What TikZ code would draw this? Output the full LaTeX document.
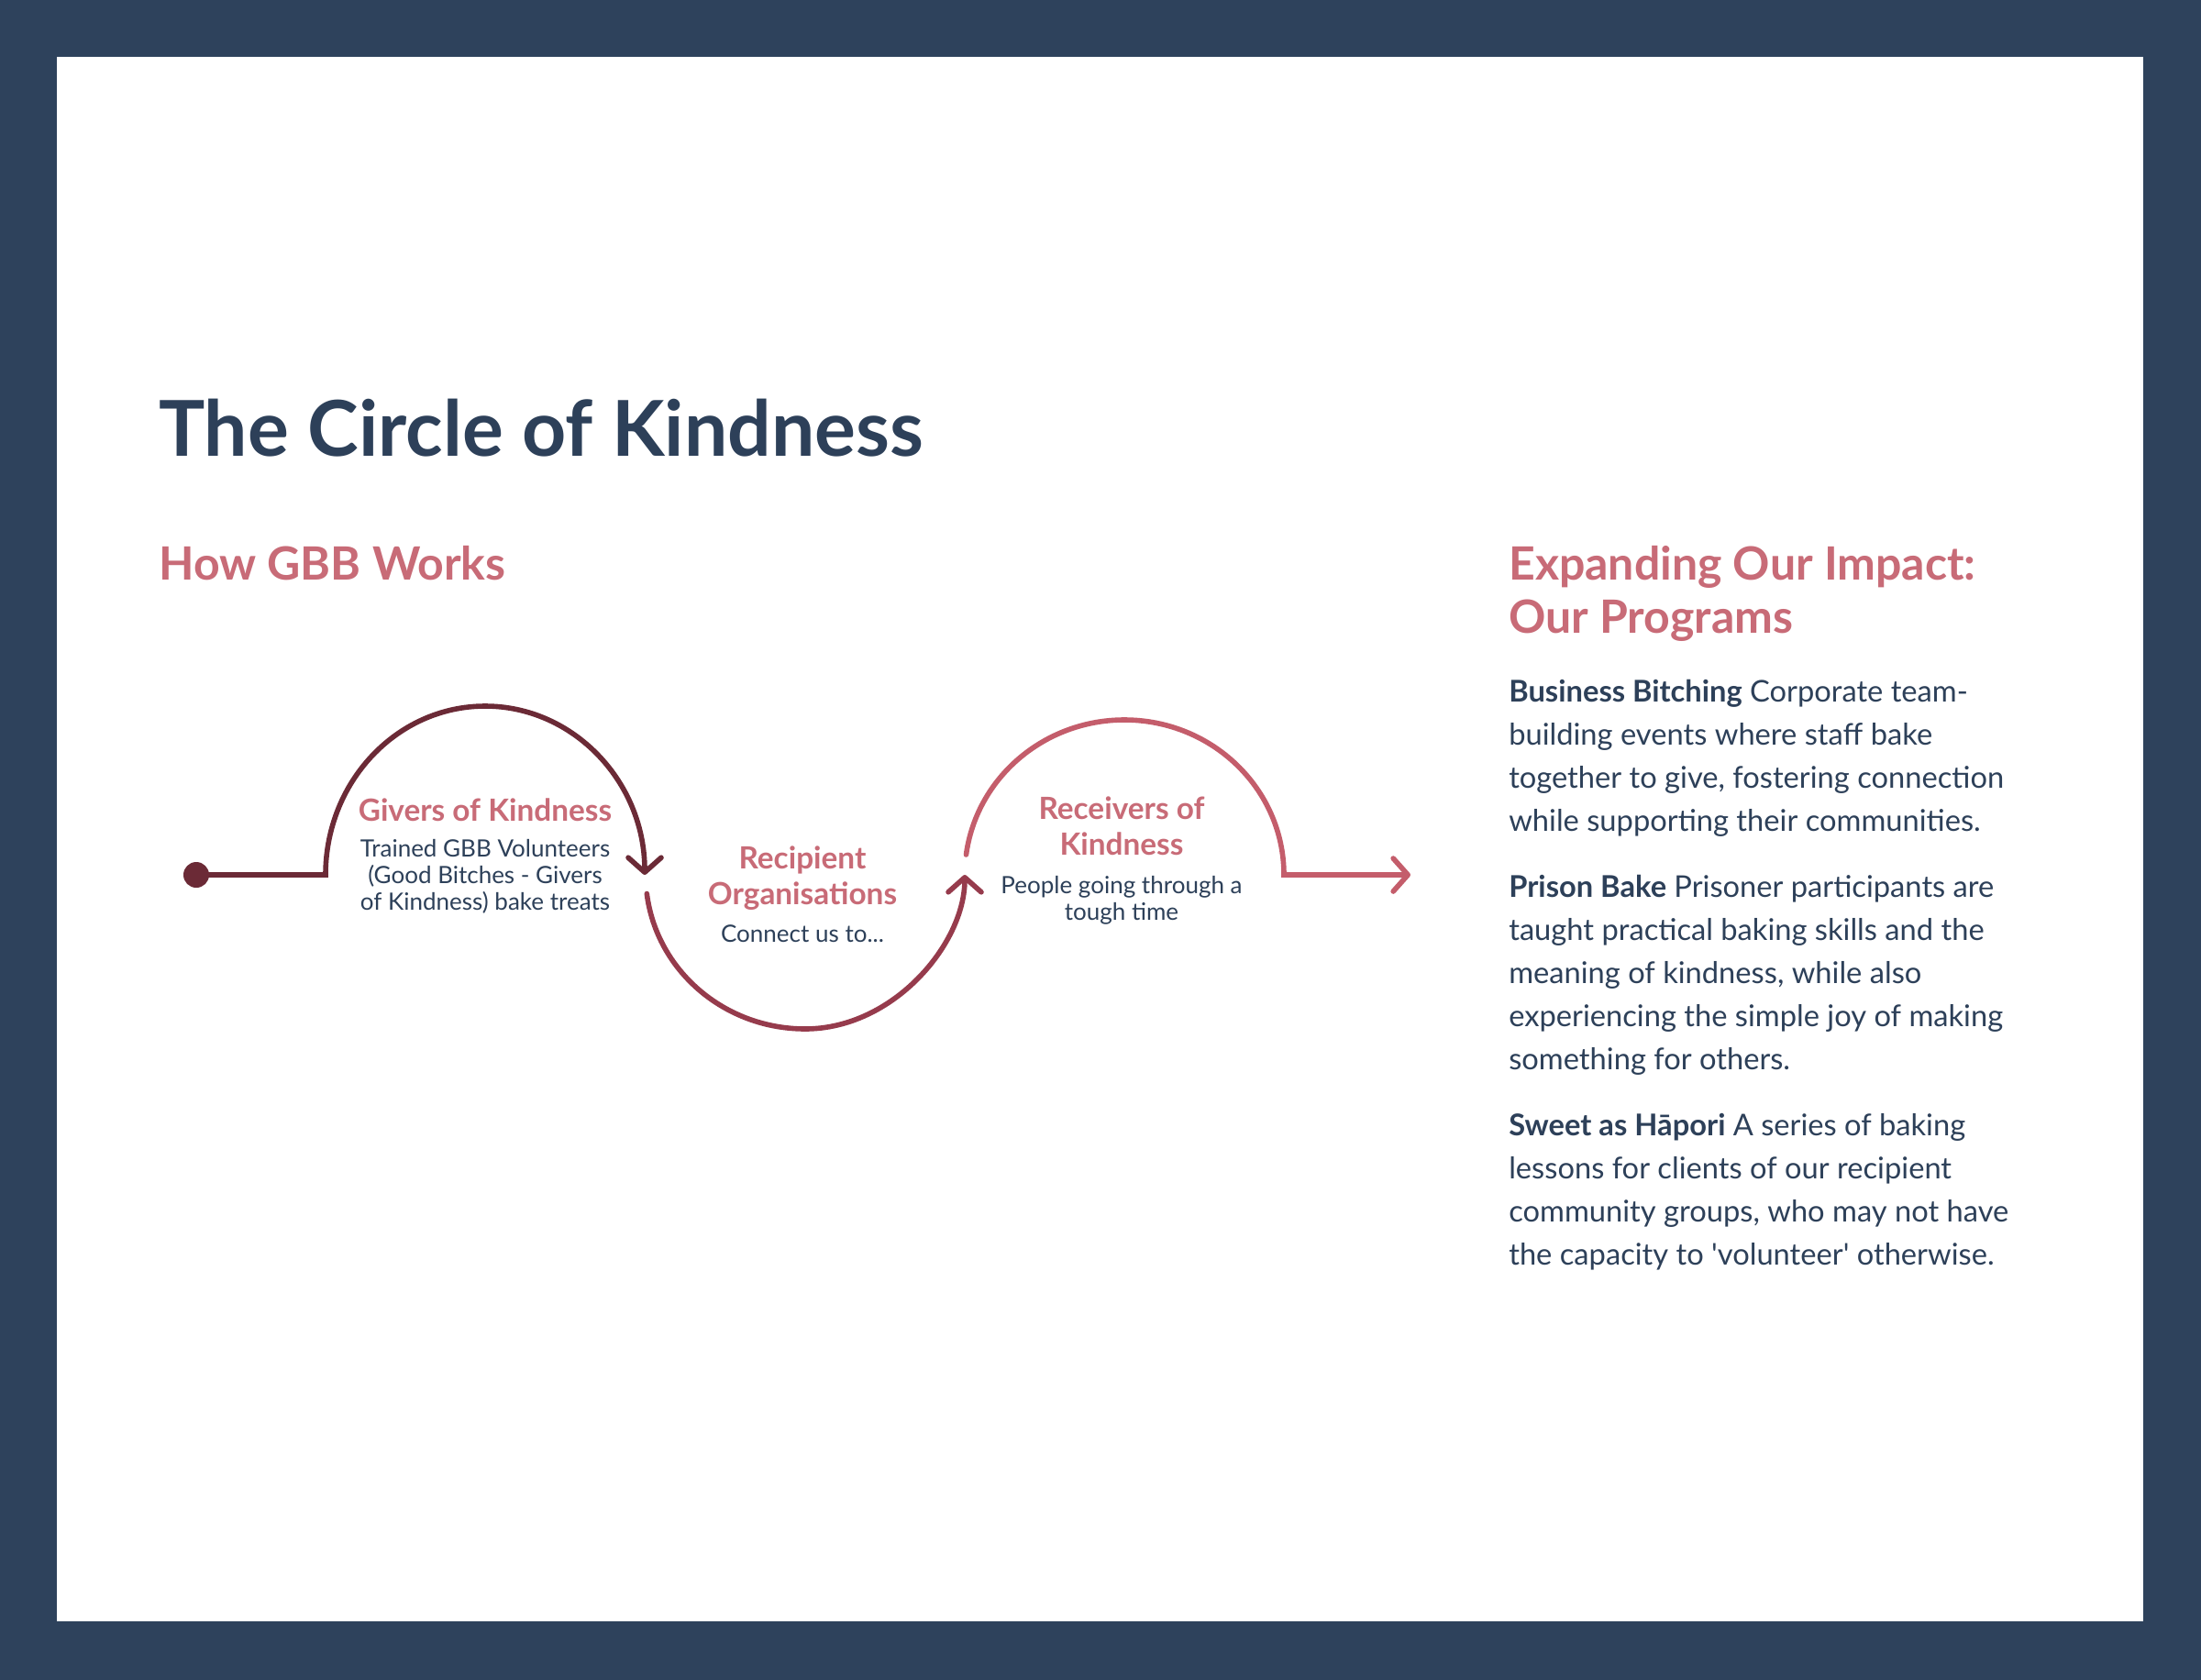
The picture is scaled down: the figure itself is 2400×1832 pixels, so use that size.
\documentclass[tikz,border=0pt]{standalone}
\usepackage{fontspec}
\setmainfont{Lato}
\usetikzlibrary{arrows.meta}
\definecolor{navy}{HTML}{2D4059}
\definecolor{framebg}{HTML}{2E425C}
\definecolor{pinktxt}{HTML}{C86B77}
\definecolor{cone}{HTML}{6B2A36}
\definecolor{ctwo}{HTML}{963B4C}
\definecolor{cthree}{HTML}{C45D6B}
\begin{document}
\begin{tikzpicture}[x=0.75pt,y=-0.75pt,
  bigtitle/.style={anchor=base west,inner sep=0,text=navy,font=\bfseries\fontsize{63}{70}\selectfont},
  heading/.style={anchor=base west,inner sep=0,text=pinktxt,align=left,font=\bfseries\fontsize{37.5}{43.5}\selectfont},
  bodytext/.style={anchor=base west,inner sep=0,text=navy,align=left,font=\fontsize{24.5}{35.2}\selectfont},
  steptitle/.style={anchor=base,inner sep=0,text=pinktxt,align=center,font=\bfseries\fontsize{25}{28.7}\selectfont},
  stepbody/.style={anchor=base,inner sep=0,text=navy,align=center,font=\fontsize{19.5}{21.5}\selectfont},
  flow/.style={line width=4.2pt,line cap=round},
  barb/.style={-{Straight Barb[length=12pt,width=27pt,round]}}]
\fill[framebg] (0,0) rectangle (2400,1832);
\fill[white] (62,62) rectangle (2337,1768);
\useasboundingbox (0,0) rectangle (2400,1832);

\node[bigtitle] (title) at (173,497) {The Circle of Kindness};
\node[heading] (howgbb) at (173,632) {How GBB Works};
\node[heading] (expand) at (1645,690) {Expanding Our Impact:\\Our Programs};

\node[bodytext] (prog1) at (1645,906) {\textbf{Business Bitching} Corporate team-\\building events where staff bake\\together to give, fostering connection\\while supporting their communities.};
\node[bodytext] (prog2) at (1645,1166) {\textbf{Prison Bake} Prisoner participants are\\taught practical baking skills and the\\meaning of kindness, while also\\experiencing the simple joy of making\\something for others.};
\node[bodytext] (prog3) at (1645,1379) {\textbf{Sweet as Hāpori} A series of baking\\lessons for clients of our recipient\\community groups, who may not have\\the capacity to \textquotesingle volunteer\textquotesingle\ otherwise.};

% diagram labels
\node[steptitle] (givers) at (529,895) {Givers of Kindness};
\node[stepbody] (giverstxt) at (529,992) {Trained GBB Volunteers\\(Good Bitches - Givers\\of Kindness) bake treats};
\node[steptitle] (recip) at (875,986) {Recipient\\Organisations};
\node[stepbody] (connect) at (875,1027) {Connect us to...};
\node[steptitle] (receivers) at (1223,932) {Receivers of\\Kindness};
\node[stepbody] (people) at (1223,1003) {People going through a\\tough time};

% connectors
\node[circle,fill=cone,minimum size=21pt,inner sep=0] (dot) at (214,954) {};
\coordinate (a1) at (355,954);
\coordinate (a1top) at (529,770);
\coordinate (a1end) at (703,954);
\coordinate (a2start) at (705.3,974.5);
\coordinate (a2bot) at (878,1122);
\coordinate (a2end) at (1052,954);
\coordinate (a3start) at (1053.5,932);
\coordinate (a3top) at (1226,785);
\coordinate (a3down) at (1400,954);
\coordinate (endpt) at (1538,954);

\draw[flow,cone,barb] (dot.center) -- (a1)
  .. controls (355,852.4) and (432.9,770) .. (a1top)
  .. controls (625.1,770) and (703,852.4) .. (a1end);
\draw[flow,ctwo,barb] (a2start)
  .. controls (716.0,1058.7) and (790.1,1122) .. (a2bot)
  .. controls (974.1,1122) and (1052,1029.2) .. (a2end);
\draw[flow,cthree,barb] (a3start)
  .. controls (1064.9,847.9) and (1138.7,785) .. (a3top)
  .. controls (1322.1,785) and (1400,860.7) .. (a3down) -- (endpt);
\end{tikzpicture}
\end{document}
